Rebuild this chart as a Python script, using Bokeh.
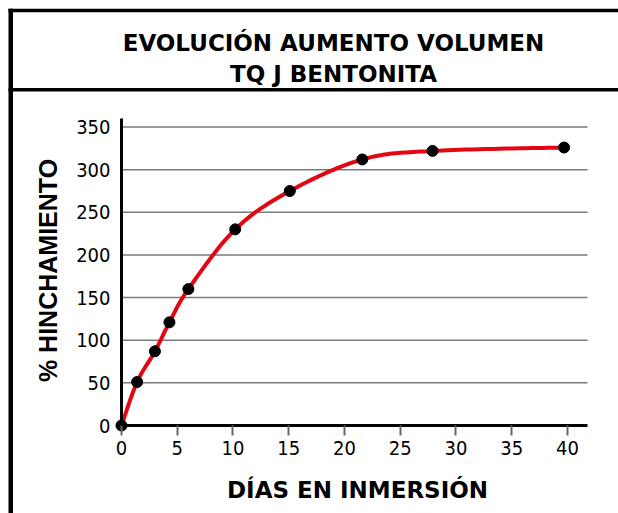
from bokeh.plotting import figure
from bokeh.models import Range1d, FixedTicker
from bokeh.core.properties import value
from bokeh.embed import file_html
from bokeh.resources import INLINE
import numpy as np

# ---- data ----
days = [0, 1.4, 3.0, 4.3, 6.0, 10.2, 15.1, 21.6, 27.9, 39.7]
swelling = [0, 51, 87, 121, 160, 230, 275, 312, 322, 326]
x_ticks = [0, 5, 10, 15, 20, 25, 30, 35, 40]
y_ticks = [0, 50, 100, 150, 200, 250, 300, 350]
title_lines = ["EVOLUCIÓN AUMENTO VOLUMEN", "TQ J BENTONITA"]
x_label = "DÍAS EN INMERSIÓN"
y_label = "% HINCHAMIENTO"

# ---- layout (canvas pixels) ----
W, H = 618, 513
FL, FR, FT, FB = 121, 587, 118, 425      # plot area inside the card
XMAX, YMAX = 41.8, 360                    # data extent of the plot area
TICK_FONT = "DejaVu Sans Condensed"

sx = (FR - FL) / XMAX
sy = (FB - FT) / YMAX
x0 = -FL / sx
y1 = YMAX + FT / sy


def X(px):
    return x0 + px / sx


def Y(py):
    return y1 - py / sy


def smooth(xs, ys, n=24):
    """Catmull-Rom style smoothing of the line drawn through the points."""
    P = np.column_stack([xs, ys]).astype(float)
    out = [P[0]]
    for i in range(len(P) - 1):
        p0 = P[i - 1] if i > 0 else P[i]
        p1, p2 = P[i], P[i + 1]
        p3 = P[i + 2] if i + 2 < len(P) else P[i + 1]
        c1 = p1 + (p2 - p0) / 6.0
        c2 = p2 - (p3 - p1) / 6.0
        t = np.linspace(0, 1, n)[1:, None]
        seg = ((1 - t) ** 3) * p1 + 3 * ((1 - t) ** 2) * t * c1 + 3 * (1 - t) * t ** 2 * c2 + t ** 3 * p2
        out.extend(seg)
    out = np.array(out)
    return out[:, 0], out[:, 1]


p = figure(width=W, height=H, output_backend="svg", toolbar_location=None,
           x_range=Range1d(X(0), X(W)), y_range=Range1d(Y(H), Y(0)),
           min_border=0)
p.outline_line_color = None
p.background_fill_color = "white"
p.border_fill_color = "white"
p.xgrid.grid_line_color = None
p.ygrid.grid_line_color = None

# axes, fixed at the origin so they take no border space
p.xaxis.fixed_location = 0
p.yaxis.fixed_location = 0
p.xaxis.bounds = (0, XMAX)
p.yaxis.bounds = (0, YMAX)
p.xaxis.ticker = FixedTicker(ticks=x_ticks)
p.yaxis.ticker = FixedTicker(ticks=y_ticks)
for ax in (p.xaxis[0], p.yaxis[0]):
    ax.axis_line_color = "black"
    ax.axis_line_width = 3
    ax.minor_tick_line_color = None
    ax.major_label_text_font = TICK_FONT
    ax.major_label_text_font_size = "20px"
    ax.major_label_text_color = "black"
p.xaxis.major_tick_line_color = "#666666"
p.xaxis.major_tick_line_width = 2
p.xaxis.major_tick_out = 10
p.xaxis.major_tick_in = 0
p.xaxis.major_label_standoff = 5
p.yaxis.major_tick_line_color = None
p.yaxis.major_tick_out = 0
p.yaxis.major_tick_in = 0
p.yaxis.major_label_standoff = 11

# horizontal grid lines across the plot area
gy = [t for t in y_ticks if t > 0]
p.segment(x0=[0] * len(gy), y0=gy, x1=[XMAX] * len(gy), y1=gy,
          line_color="#7a7a7a", line_width=1.5)

# series
sxs, sys_ = smooth(days, swelling)
p.line(sxs, sys_, line_color="#e30613", line_width=4)
p.scatter(days, swelling, size=11, fill_color="black", line_color="black")

# card border lines
p.quad(left=[X(8), X(8), X(8)], right=[X(W), X(12.5), X(W)],
       top=[Y(8.3), Y(8.3), Y(87.5)], bottom=[Y(11.8), Y(H), Y(91)],
       fill_color="black", line_color=None)

# texts
p.text(x=[X(333)] * 2, y=[Y(42), Y(73)], text=title_lines,
       text_align="center", text_baseline="middle", text_font=value("DejaVu Sans"),
       text_font_style="bold", text_font_size="23px", text_color="black")
p.text(x=[X(357)], y=[Y(489)], text=[x_label],
       text_align="center", text_baseline="middle", text_font=value("DejaVu Sans"),
       text_font_style="bold", text_font_size="23px", text_color="black")
p.text(x=[X(47)], y=[Y(270)], text=[y_label], angle=np.pi / 2,
       text_align="center", text_baseline="middle", text_font=value("Liberation Sans"),
       text_font_style="bold", text_font_size="25px", text_color="black")

open("out.html", "w").write(file_html(p, INLINE))
